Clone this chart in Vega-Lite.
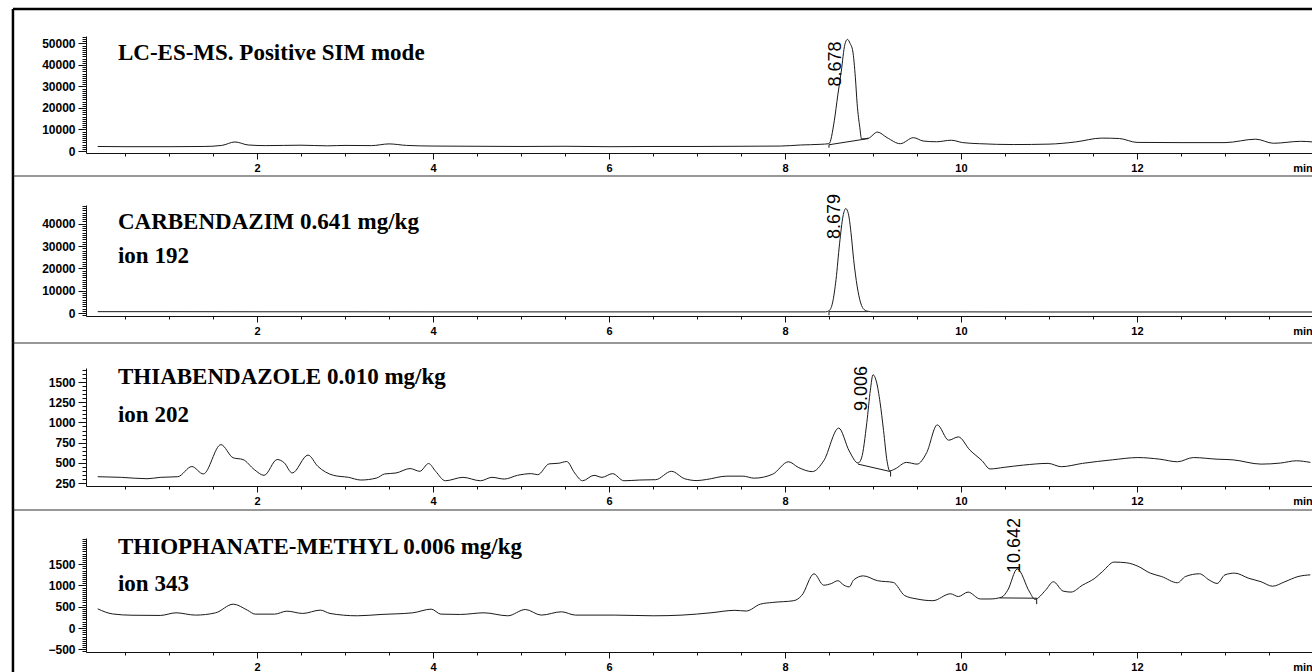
{
  "$schema": "https://vega.github.io/schema/vega-lite/v6.json",
  "autosize": {"type": "pad"},
  "padding": {"left": 11, "top": 7, "right": 0, "bottom": 0},
  "background": "white",
  "spacing": 52,
  "bounds": "flush",
  "config": {
    "view": {"stroke": null},
    "axis": {"grid": false, "domainColor": "#111", "tickColor": "#111", "labelColor": "#000", "labelFont": "Liberation Sans", "labelFontWeight": "bold", "labelFontSize": 12, "labelOverlap": false, "labelBound": false, "labelFlush": false},
    "text": {"color": "#000"}
  },
  "vconcat": [
    {
      "width": 1227, "height": 117,
      "layer": [
        {
          "data": {"values": [{"t":0.19,"v":2100},{"t":0.5,"v":2000},{"t":1.0,"v":2000},{"t":1.4,"v":2100},{"t":1.6,"v":2600},{"t":1.75,"v":4200},{"t":1.9,"v":2800},{"t":2.1,"v":2500},{"t":2.5,"v":2700},{"t":2.8,"v":2400},{"t":3.0,"v":2600},{"t":3.3,"v":2500},{"t":3.5,"v":3300},{"t":3.7,"v":2600},{"t":4.0,"v":2300},{"t":4.5,"v":2200},{"t":5.0,"v":2100},{"t":5.5,"v":2200},{"t":6.0,"v":2000},{"t":6.5,"v":2100},{"t":7.0,"v":2100},{"t":7.5,"v":2200},{"t":7.95,"v":2300},{"t":8.18,"v":2800},{"t":8.4,"v":3100},{"t":8.5,"v":3400},{"t":8.56,"v":14000},{"t":8.6,"v":26000},{"t":8.64,"v":37200},{"t":8.68,"v":49500},{"t":8.71,"v":51900},{"t":8.74,"v":50000},{"t":8.77,"v":46500},{"t":8.8,"v":34000},{"t":8.82,"v":21900},{"t":8.85,"v":11000},{"t":8.87,"v":5600},{"t":8.95,"v":6000},{"t":9.05,"v":8800},{"t":9.16,"v":6200},{"t":9.31,"v":3400},{"t":9.46,"v":6200},{"t":9.57,"v":4650},{"t":9.72,"v":4300},{"t":9.89,"v":5000},{"t":10.02,"v":3900},{"t":10.21,"v":3400},{"t":10.6,"v":3000},{"t":11.0,"v":3200},{"t":11.3,"v":4200},{"t":11.6,"v":6000},{"t":11.8,"v":5800},{"t":12.0,"v":4000},{"t":12.5,"v":3900},{"t":13.0,"v":3900},{"t":13.35,"v":5500},{"t":13.55,"v":3600},{"t":13.86,"v":4500},{"t":14.0,"v":4200}]},
          "mark": {"type": "line", "interpolate": "monotone", "color": "#1a1a1a", "strokeWidth": 1},
          "encoding": {
            "x": {"field": "t", "type": "quantitative", "title": null, "scale": {"domain": [0.057, 14.0], "nice": false, "zero": false},
              "axis": {"values": [0.5,1,1.5,2,2.5,3,3.5,4,4.5,5,5.5,6,6.5,7,7.5,8,8.5,9,9.5,10,10.5,11,11.5,12,12.5,13,13.5,13.88], "labelExpr": "datum.value == 13.88 ? 'min' : (datum.value % 2 == 0 ? format(datum.value, 'd') : '')", "labelFontSize": 11, "labelPadding": 3, "tickSize": {"condition": {"test": "datum.value % 2 == 0 || datum.value == 13.88", "value": 6}, "value": 3}, "tickOpacity": {"condition": {"test": "datum.value == 13.88", "value": 0}, "value": 1}}},
            "y": {"field": "v", "type": "quantitative", "title": null, "scale": {"domain": [-930, 53475], "nice": false, "zero": false},
              "axis": {"tickCount": 55, "format": "d", "labelExpr": "datum.value % 10000 == 0 ? datum.label : ''", "labelPadding": 3, "tickSize": {"condition": {"test": "datum.value % 10000 == 0", "value": 8}, "value": 4}}}
          }
        },
        {
          "data": {"values": [{"i":0,"t":8.5,"v":1500},{"i":1,"t":8.5,"v":2900},{"i":2,"t":8.95,"v":5800}]},
          "mark": {"type": "line", "color": "#1a1a1a", "strokeWidth": 1},
          "encoding": {"x": {"field": "t", "type": "quantitative"}, "y": {"field": "v", "type": "quantitative"}, "order": {"field": "i"}}
        },
        {
          "data": {"values": [{"t":8.58,"v":30000,"s":"8.678"}]},
          "mark": {"type": "text", "angle": 270, "align": "left", "baseline": "middle", "font": "Liberation Sans", "fontSize": 18},
          "encoding": {"x": {"field": "t", "type": "quantitative"}, "y": {"field": "v", "type": "quantitative"}, "text": {"field": "s"}}
        },
        {
          "data": {"values": [{"t":0.42,"v":42300,"s":"LC-ES-MS. Positive SIM mode"}]},
          "mark": {"type": "text", "align": "left", "baseline": "alphabetic", "font": "Liberation Serif", "fontWeight": "bold", "fontSize": 23},
          "encoding": {"x": {"field": "t", "type": "quantitative"}, "y": {"field": "v", "type": "quantitative"}, "text": {"field": "s"}}
        },
        {
          "data": {"values": [{"t":-0.773,"t2":14.0,"v":66030,"v2":66030},{"t":-0.773,"t2":-0.773,"v":66030,"v2":-11625}]},
          "mark": {"type": "rule", "color": "#000", "strokeWidth": 2.5},
          "encoding": {"x": {"field": "t", "type": "quantitative"}, "x2": {"field": "t2"}, "y": {"field": "v", "type": "quantitative"}, "y2": {"field": "v2"}}
        },
        {
          "data": {"values": [{"t":-0.773,"t2":14.0,"v":-11625,"v2":-11625}]},
          "mark": {"type": "rule", "color": "#333", "strokeWidth": 1.2},
          "encoding": {"x": {"field": "t", "type": "quantitative"}, "x2": {"field": "t2"}, "y": {"field": "v", "type": "quantitative"}, "y2": {"field": "v2"}}
        }
      ]
    },
    {
      "width": 1227, "height": 111,
      "layer": [
        {
          "data": {"values": [{"t":0.19,"v":600},{"t":1,"v":600},{"t":2,"v":550},{"t":3,"v":550},{"t":4,"v":500},{"t":5,"v":500},{"t":6,"v":500},{"t":7,"v":500},{"t":8,"v":500},{"t":8.46,"v":500},{"t":8.5,"v":1000},{"t":8.54,"v":4500},{"t":8.58,"v":15000},{"t":8.62,"v":31000},{"t":8.66,"v":43500},{"t":8.69,"v":46800},{"t":8.72,"v":44500},{"t":8.75,"v":36000},{"t":8.78,"v":24000},{"t":8.82,"v":12000},{"t":8.86,"v":4500},{"t":8.9,"v":1500},{"t":8.95,"v":700},{"t":9.0,"v":500},{"t":10,"v":500},{"t":11,"v":450},{"t":12,"v":450},{"t":13,"v":450},{"t":14,"v":450}]},
          "mark": {"type": "line", "interpolate": "monotone", "color": "#1a1a1a", "strokeWidth": 1},
          "encoding": {
            "x": {"field": "t", "type": "quantitative", "title": null, "scale": {"domain": [0.057, 14.0], "nice": false, "zero": false},
              "axis": {"values": [0.5,1,1.5,2,2.5,3,3.5,4,4.5,5,5.5,6,6.5,7,7.5,8,8.5,9,9.5,10,10.5,11,11.5,12,12.5,13,13.5,13.88], "labelExpr": "datum.value == 13.88 ? 'min' : (datum.value % 2 == 0 ? format(datum.value, 'd') : '')", "labelFontSize": 11, "labelPadding": 3, "tickSize": {"condition": {"test": "datum.value % 2 == 0 || datum.value == 13.88", "value": 6}, "value": 3}, "tickOpacity": {"condition": {"test": "datum.value == 13.88", "value": 0}, "value": 1}}},
            "y": {"field": "v", "type": "quantitative", "title": null, "scale": {"domain": [-1344, 48384], "nice": false, "zero": false},
              "axis": {"tickCount": 50, "format": "d", "labelExpr": "datum.value % 10000 == 0 ? datum.label : ''", "labelPadding": 3, "tickSize": {"condition": {"test": "datum.value % 10000 == 0", "value": 8}, "value": 4}}}
          }
        },
        {
          "data": {"values": [{"i":0,"t":8.5,"v":-1000},{"i":1,"t":8.5,"v":600},{"i":2,"t":8.95,"v":600}]},
          "mark": {"type": "line", "color": "#1a1a1a", "strokeWidth": 1},
          "encoding": {"x": {"field": "t", "type": "quantitative"}, "y": {"field": "v", "type": "quantitative"}, "order": {"field": "i"}}
        },
        {
          "data": {"values": [{"t":8.57,"v":33150,"s":"8.679"}]},
          "mark": {"type": "text", "angle": 270, "align": "left", "baseline": "middle", "font": "Liberation Sans", "fontSize": 18},
          "encoding": {"x": {"field": "t", "type": "quantitative"}, "y": {"field": "v", "type": "quantitative"}, "text": {"field": "s"}}
        },
        {
          "data": {"values": [{"t":0.42,"v":37600,"s":"CARBENDAZIM 0.641 mg/kg"},{"t":0.42,"v":22400,"s":"ion 192"}]},
          "mark": {"type": "text", "align": "left", "baseline": "alphabetic", "font": "Liberation Serif", "fontWeight": "bold", "fontSize": 23},
          "encoding": {"x": {"field": "t", "type": "quantitative"}, "y": {"field": "v", "type": "quantitative"}, "text": {"field": "s"}}
        },
        {
          "data": {"values": [{"t":-0.773,"t2":-0.773,"v":61376,"v2":-13440}]},
          "mark": {"type": "rule", "color": "#000", "strokeWidth": 2.5},
          "encoding": {"x": {"field": "t", "type": "quantitative"}, "x2": {"field": "t2"}, "y": {"field": "v", "type": "quantitative"}, "y2": {"field": "v2"}}
        },
        {
          "data": {"values": [{"t":-0.773,"t2":14.0,"v":-13440,"v2":-13440}]},
          "mark": {"type": "rule", "color": "#333", "strokeWidth": 1.2},
          "encoding": {"x": {"field": "t", "type": "quantitative"}, "x2": {"field": "t2"}, "y": {"field": "v", "type": "quantitative"}, "y2": {"field": "v2"}}
        }
      ]
    },
    {
      "width": 1227, "height": 118,
      "layer": [
        {
          "data": {"values": [{"t":0.19,"v":328},{"t":0.46,"v":320},{"t":0.75,"v":303},{"t":0.9,"v":320},{"t":1.1,"v":328},{"t":1.26,"v":454},{"t":1.39,"v":362},{"t":1.59,"v":725},{"t":1.73,"v":562},{"t":1.84,"v":541},{"t":1.97,"v":416},{"t":2.08,"v":345},{"t":2.23,"v":541},{"t":2.31,"v":500},{"t":2.4,"v":374},{"t":2.58,"v":596},{"t":2.69,"v":458},{"t":2.87,"v":345},{"t":3.04,"v":320},{"t":3.18,"v":287},{"t":3.36,"v":312},{"t":3.45,"v":362},{"t":3.58,"v":374},{"t":3.74,"v":429},{"t":3.85,"v":395},{"t":3.95,"v":491},{"t":4.03,"v":395},{"t":4.14,"v":278},{"t":4.34,"v":320},{"t":4.54,"v":278},{"t":4.67,"v":320},{"t":4.81,"v":299},{"t":4.96,"v":345},{"t":5.12,"v":366},{"t":5.19,"v":353},{"t":5.32,"v":487},{"t":5.43,"v":495},{"t":5.52,"v":516},{"t":5.61,"v":374},{"t":5.7,"v":278},{"t":5.83,"v":345},{"t":5.92,"v":320},{"t":6.04,"v":366},{"t":6.17,"v":278},{"t":6.35,"v":287},{"t":6.53,"v":291},{"t":6.71,"v":395},{"t":6.86,"v":303},{"t":7.0,"v":280},{"t":7.11,"v":294},{"t":7.34,"v":335},{"t":7.52,"v":335},{"t":7.65,"v":310},{"t":7.86,"v":359},{"t":8.04,"v":513},{"t":8.15,"v":444},{"t":8.31,"v":391},{"t":8.44,"v":525},{"t":8.61,"v":930},{"t":8.73,"v":646},{"t":8.83,"v":497},{"t":8.87,"v":560},{"t":8.93,"v":1000},{"t":8.97,"v":1400},{"t":9.0,"v":1590},{"t":9.04,"v":1500},{"t":9.08,"v":1250},{"t":9.12,"v":900},{"t":9.16,"v":520},{"t":9.19,"v":400},{"t":9.25,"v":424},{"t":9.38,"v":505},{"t":9.5,"v":484},{"t":9.61,"v":626},{"t":9.73,"v":970},{"t":9.86,"v":780},{"t":9.97,"v":821},{"t":10.1,"v":659},{"t":10.24,"v":525},{"t":10.33,"v":424},{"t":10.49,"v":444},{"t":10.71,"v":472},{"t":10.99,"v":493},{"t":11.14,"v":452},{"t":11.38,"v":493},{"t":11.72,"v":537},{"t":12.01,"v":565},{"t":12.26,"v":545},{"t":12.46,"v":513},{"t":12.64,"v":565},{"t":12.91,"v":545},{"t":13.09,"v":537},{"t":13.41,"v":484},{"t":13.63,"v":497},{"t":13.81,"v":525},{"t":13.97,"v":505}]},
          "mark": {"type": "line", "interpolate": "monotone", "color": "#1a1a1a", "strokeWidth": 1},
          "encoding": {
            "x": {"field": "t", "type": "quantitative", "title": null, "scale": {"domain": [0.057, 14.0], "nice": false, "zero": false},
              "axis": {"values": [0.5,1,1.5,2,2.5,3,3.5,4,4.5,5,5.5,6,6.5,7,7.5,8,8.5,9,9.5,10,10.5,11,11.5,12,12.5,13,13.5,13.88], "labelExpr": "datum.value == 13.88 ? 'min' : (datum.value % 2 == 0 ? format(datum.value, 'd') : '')", "labelFontSize": 11, "labelPadding": 3, "tickSize": {"condition": {"test": "datum.value % 2 == 0 || datum.value == 13.88", "value": 6}, "value": 3}, "tickOpacity": {"condition": {"test": "datum.value == 13.88", "value": 0}, "value": 1}}},
            "y": {"field": "v", "type": "quantitative", "title": null, "scale": {"domain": [213, 1674], "nice": false, "zero": false},
              "axis": {"tickCount": 30, "format": "d", "labelExpr": "datum.value % 250 == 0 ? datum.label : ''", "labelPadding": 3, "tickSize": {"condition": {"test": "datum.value % 250 == 0", "value": 8}, "value": 4}}}
          }
        },
        {
          "data": {"values": [{"i":0,"t":8.83,"v":484},{"i":1,"t":9.2,"v":391},{"i":2,"t":9.2,"v":330}]},
          "mark": {"type": "line", "color": "#1a1a1a", "strokeWidth": 1},
          "encoding": {"x": {"field": "t", "type": "quantitative"}, "y": {"field": "v", "type": "quantitative"}, "order": {"field": "i"}}
        },
        {
          "data": {"values": [{"t":8.87,"v":1141,"s":"9.006"}]},
          "mark": {"type": "text", "angle": 270, "align": "left", "baseline": "middle", "font": "Liberation Sans", "fontSize": 18},
          "encoding": {"x": {"field": "t", "type": "quantitative"}, "y": {"field": "v", "type": "quantitative"}, "text": {"field": "s"}}
        },
        {
          "data": {"values": [{"t":0.42,"v":1476,"s":"THIABENDAZOLE 0.010 mg/kg"},{"t":0.42,"v":1005,"s":"ion 202"}]},
          "mark": {"type": "text", "align": "left", "baseline": "alphabetic", "font": "Liberation Serif", "fontWeight": "bold", "fontSize": 23},
          "encoding": {"x": {"field": "t", "type": "quantitative"}, "y": {"field": "v", "type": "quantitative"}, "text": {"field": "s"}}
        },
        {
          "data": {"values": [{"t":-0.773,"t2":-0.773,"v":1983,"v2":-84}]},
          "mark": {"type": "rule", "color": "#000", "strokeWidth": 2.5},
          "encoding": {"x": {"field": "t", "type": "quantitative"}, "x2": {"field": "t2"}, "y": {"field": "v", "type": "quantitative"}, "y2": {"field": "v2"}}
        },
        {
          "data": {"values": [{"t":-0.773,"t2":14.0,"v":-84,"v2":-84}]},
          "mark": {"type": "rule", "color": "#333", "strokeWidth": 1.2},
          "encoding": {"x": {"field": "t", "type": "quantitative"}, "x2": {"field": "t2"}, "y": {"field": "v", "type": "quantitative"}, "y2": {"field": "v2"}}
        }
      ]
    },
    {
      "width": 1227, "height": 114,
      "layer": [
        {
          "data": {"values": [{"t":0.19,"v":450},{"t":0.36,"v":330},{"t":0.58,"v":300},{"t":0.9,"v":295},{"t":1.08,"v":357},{"t":1.3,"v":303},{"t":1.53,"v":357},{"t":1.73,"v":560},{"t":1.89,"v":420},{"t":1.98,"v":326},{"t":2.2,"v":326},{"t":2.34,"v":396},{"t":2.52,"v":342},{"t":2.72,"v":420},{"t":2.83,"v":342},{"t":3.14,"v":287},{"t":3.41,"v":318},{"t":3.77,"v":357},{"t":3.98,"v":443},{"t":4.09,"v":326},{"t":4.31,"v":318},{"t":4.58,"v":357},{"t":4.85,"v":287},{"t":5.05,"v":435},{"t":5.23,"v":303},{"t":5.46,"v":381},{"t":5.62,"v":303},{"t":6.06,"v":303},{"t":6.51,"v":287},{"t":6.83,"v":303},{"t":7.16,"v":358},{"t":7.43,"v":415},{"t":7.56,"v":399},{"t":7.72,"v":561},{"t":7.86,"v":601},{"t":8.1,"v":642},{"t":8.19,"v":763},{"t":8.33,"v":1274},{"t":8.44,"v":1006},{"t":8.53,"v":1047},{"t":8.6,"v":1112},{"t":8.67,"v":1006},{"t":8.73,"v":966},{"t":8.78,"v":1128},{"t":8.89,"v":1225},{"t":9.05,"v":1112},{"t":9.23,"v":1071},{"t":9.36,"v":763},{"t":9.5,"v":682},{"t":9.68,"v":642},{"t":9.88,"v":804},{"t":9.97,"v":739},{"t":10.08,"v":844},{"t":10.22,"v":682},{"t":10.33,"v":682},{"t":10.46,"v":723},{"t":10.53,"v":885},{"t":10.64,"v":1387},{"t":10.78,"v":844},{"t":10.84,"v":674},{"t":10.96,"v":885},{"t":11.05,"v":1087},{"t":11.16,"v":868},{"t":11.25,"v":844},{"t":11.38,"v":1006},{"t":11.52,"v":1168},{"t":11.61,"v":1330},{"t":11.74,"v":1549},{"t":11.88,"v":1533},{"t":12.01,"v":1452},{"t":12.15,"v":1290},{"t":12.28,"v":1209},{"t":12.46,"v":1063},{"t":12.55,"v":1209},{"t":12.71,"v":1274},{"t":12.82,"v":1128},{"t":12.91,"v":1047},{"t":13.0,"v":1249},{"t":13.11,"v":1290},{"t":13.27,"v":1168},{"t":13.41,"v":1087},{"t":13.54,"v":982},{"t":13.68,"v":1087},{"t":13.83,"v":1209},{"t":13.97,"v":1249}]},
          "mark": {"type": "line", "interpolate": "monotone", "color": "#1a1a1a", "strokeWidth": 1},
          "encoding": {
            "x": {"field": "t", "type": "quantitative", "title": null, "scale": {"domain": [0.057, 14.0], "nice": false, "zero": false},
              "axis": {"values": [0.5,1,1.5,2,2.5,3,3.5,4,4.5,5,5.5,6,6.5,7,7.5,8,8.5,9,9.5,10,10.5,11,11.5,12,12.5,13,13.5,13.88], "labelExpr": "datum.value == 13.88 ? 'min' : (datum.value % 2 == 0 ? format(datum.value, 'd') : '')", "labelFontSize": 11, "labelPadding": 3, "tickSize": {"condition": {"test": "datum.value % 2 == 0 || datum.value == 13.88", "value": 6}, "value": 3}, "tickOpacity": {"condition": {"test": "datum.value == 13.88", "value": 0}, "value": 1}}},
            "y": {"field": "v", "type": "quantitative", "title": null, "scale": {"domain": [-564, 2115], "nice": false, "zero": false},
              "axis": {"tickCount": 54, "format": "d", "labelExpr": "datum.value % 500 == 0 && datum.value < 1900 ? datum.label : ''", "labelPadding": 3, "tickSize": {"condition": {"test": "datum.value % 500 == 0 && datum.value < 1900", "value": 8}, "value": 4}}}
          }
        },
        {
          "data": {"values": [{"i":0,"t":10.44,"v":707},{"i":1,"t":10.86,"v":700},{"i":2,"t":10.86,"v":560}]},
          "mark": {"type": "line", "color": "#1a1a1a", "strokeWidth": 1},
          "encoding": {"x": {"field": "t", "type": "quantitative"}, "y": {"field": "v", "type": "quantitative"}, "order": {"field": "i"}}
        },
        {
          "data": {"values": [{"t":10.61,"v":1290,"s":"10.642"}]},
          "mark": {"type": "text", "angle": 270, "align": "left", "baseline": "middle", "font": "Liberation Sans", "fontSize": 18},
          "encoding": {"x": {"field": "t", "type": "quantitative"}, "y": {"field": "v", "type": "quantitative"}, "text": {"field": "s"}}
        },
        {
          "data": {"values": [{"t":0.42,"v":1739,"s":"THIOPHANATE-METHYL 0.006 mg/kg"},{"t":0.42,"v":870,"s":"ion 343"}]},
          "mark": {"type": "text", "align": "left", "baseline": "alphabetic", "font": "Liberation Serif", "fontWeight": "bold", "fontSize": 23},
          "encoding": {"x": {"field": "t", "type": "quantitative"}, "y": {"field": "v", "type": "quantitative"}, "text": {"field": "s"}}
        },
        {
          "data": {"values": [{"t":-0.773,"t2":-0.773,"v":2773,"v2":-1058}]},
          "mark": {"type": "rule", "color": "#000", "strokeWidth": 2.5},
          "encoding": {"x": {"field": "t", "type": "quantitative"}, "x2": {"field": "t2"}, "y": {"field": "v", "type": "quantitative"}, "y2": {"field": "v2"}}
        }
      ]
    }
  ]
}
